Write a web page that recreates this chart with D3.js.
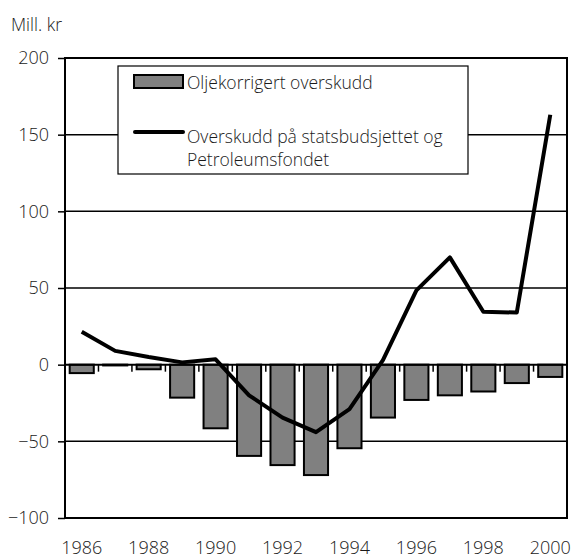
<!DOCTYPE html>
<html>
<head>
<meta charset="utf-8">
<script src="https://cdn.jsdelivr.net/npm/d3@7"></script>
<style>
  html, body { margin: 0; padding: 0; background: #fff; }
  svg { display: block; font-family: "Open Sans", sans-serif; font-weight: 300; }
</style>
</head>
<body>
<svg id="chart" width="573" height="558"></svg>
<script>
const years = ["1986","1987","1988","1989","1990","1991","1992","1993","1994","1995","1996","1997","1998","1999","2000"];
const oljekorrigert = [-5.5, -0.5, -3, -21.5, -41.5, -59.5, -65.5, -72, -54.5, -34.5, -23, -20, -17.5, -12, -8];
const overskudd = [21.5, 9, 5, 1.5, 3.5, -20, -34.5, -44, -29, 3, 48.5, 70, 34.5, 34, 163];
const yTicks = [-100, -50, 0, 50, 100, 150, 200];
const xLabels = ["1986","1988","1990","1992","1994","1996","1998","2000"];
const unitLabel = "Mill. kr";
const legendBar = "Oljekorrigert overskudd";
const legendLine = ["Overskudd på statsbudsjettet og", "Petroleumsfondet"];

const svg = d3.select("#chart");
const L = 65, R = 567, T = 58, B = 518;
const FONT = "Open Sans, sans-serif";
const TXT = "#1a1a1a";

const x = d3.scaleBand().domain(years).range([L, R]).paddingInner(0.28).paddingOuter(0.14);
const y = d3.scaleLinear().domain([-100, 200]).range([B, T]);
const step = x.step();
const cx = d => x(d) + x.bandwidth() / 2;

// gridlines
svg.append("g").selectAll("line").data(yTicks.filter(v => v !== 0 && v !== 200 && v !== -100)).join("line")
  .attr("x1", L).attr("x2", R).attr("y1", d => y(d)).attr("y2", d => y(d))
  .attr("stroke", "#000").attr("stroke-width", 1.5);

// y axis
const yAxis = d3.axisLeft(y).tickValues(yTicks).tickSize(7).tickPadding(9);
const gy = svg.append("g").attr("transform", `translate(${L},0)`).call(yAxis);
gy.select(".domain").remove();
gy.selectAll(".tick line").attr("stroke", "#000").attr("stroke-width", 1.5);
gy.selectAll(".tick text").attr("font-size", 18).attr("fill", TXT).attr("font-family", FONT).attr("font-weight", 300);

// bars
svg.append("g").selectAll("rect").data(years.map((d, i) => ({ year: d, v: oljekorrigert[i] }))).join("rect")
  .attr("x", d => x(d.year))
  .attr("width", x.bandwidth())
  .attr("y", d => y(Math.max(0, d.v)))
  .attr("height", d => Math.abs(y(d.v) - y(0)))
  .attr("fill", "#808080").attr("stroke", "#000").attr("stroke-width", 2);

// zero line and category ticks
svg.append("line").attr("x1", L).attr("x2", R).attr("y1", y(0)).attr("y2", y(0))
  .attr("stroke", "#000").attr("stroke-width", 2);
svg.append("g").selectAll("line").data(years.slice(0, -1)).join("line")
  .attr("x1", d => cx(d) + step / 2).attr("x2", d => cx(d) + step / 2)
  .attr("y1", y(0)).attr("y2", y(0) + 7)
  .attr("stroke", "#000").attr("stroke-width", 1.5);

// plot border
svg.append("rect").attr("x", L).attr("y", T).attr("width", R - L).attr("height", B - T)
  .attr("fill", "none").attr("stroke", "#000").attr("stroke-width", 2);

// x labels
const xAxis = d3.axisBottom(x).tickValues(xLabels).tickSize(0).tickPadding(23);
const gx = svg.append("g").attr("transform", `translate(0,${B})`).call(xAxis);
gx.select(".domain").remove();
gx.selectAll(".tick text").attr("font-size", 18).attr("fill", TXT).attr("font-family", FONT).attr("font-weight", 300);

// legend
const lg = svg.append("g");
lg.append("rect").attr("x", 118).attr("y", 66).attr("width", 350).attr("height", 108)
  .attr("fill", "#fff").attr("stroke", "#000").attr("stroke-width", 1.2);
lg.append("rect").attr("x", 134).attr("y", 75).attr("width", 49).attr("height", 13)
  .attr("fill", "#808080").attr("stroke", "#000").attr("stroke-width", 2);
lg.append("text").attr("x", 187).attr("y", 89).attr("font-size", 17.5).attr("fill", TXT).text(legendBar);
lg.append("line").attr("x1", 135).attr("x2", 183).attr("y1", 132).attr("y2", 132)
  .attr("stroke", "#000").attr("stroke-width", 4).attr("stroke-linecap", "round");
lg.append("text").attr("x", 187).attr("y", 143).attr("font-size", 17.5).attr("fill", TXT).text(legendLine[0]);
lg.append("text").attr("x", 187).attr("y", 166).attr("font-size", 17.5).attr("fill", TXT).text(legendLine[1]);

// line
const line = d3.line().x((d, i) => cx(years[i])).y(d => y(d));
svg.append("path").datum(overskudd).attr("d", line)
  .attr("fill", "none").attr("stroke", "#000").attr("stroke-width", 4).attr("stroke-linejoin", "round");

// unit label
svg.append("text").attr("x", 11).attr("y", 31).attr("font-size", 17.5).attr("fill", TXT).text(unitLabel);
</script>
</body>
</html>
